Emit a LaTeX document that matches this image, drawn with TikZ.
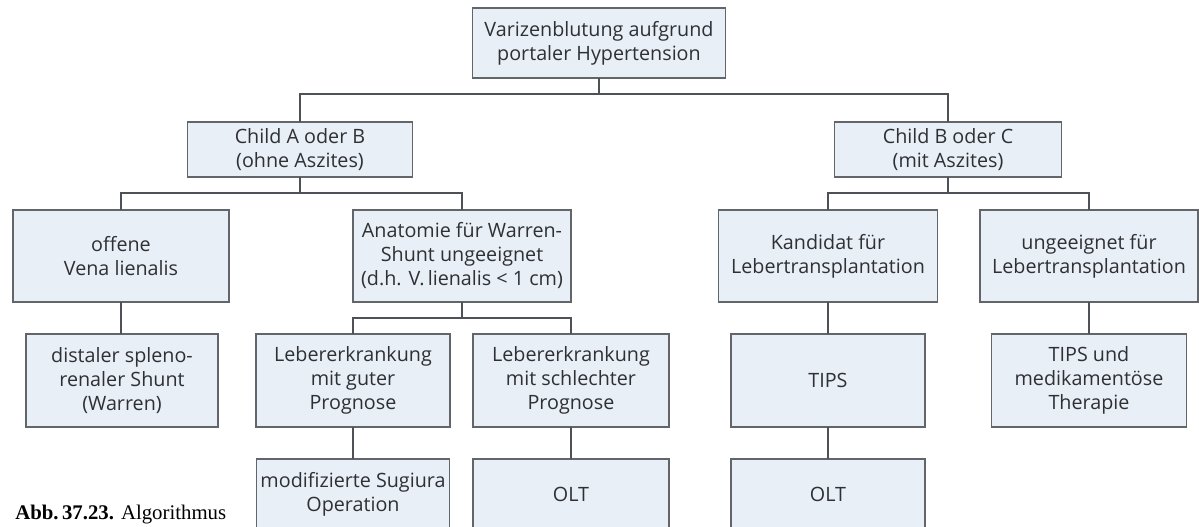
\documentclass[tikz,border=0pt]{standalone}
\usepackage{fontspec}
\setmainfont{Liberation Serif}
\newfontfamily\boxfont{Open Sans}
\usepackage{xcolor}
\definecolor{boxfill}{HTML}{E9EFF7}
\definecolor{boxline}{HTML}{62656A}
\definecolor{wire}{HTML}{4E5155}
\definecolor{ink}{HTML}{2E3034}
\usepackage{tikz}

\begin{document}
\begin{tikzpicture}[
  x=0.75pt, y=-0.75pt,
  box/.style={draw=boxline, fill=boxfill, line width=1pt, inner sep=0pt, outer sep=0pt, text=ink, font=\boxfont\fontsize{14.8}{18}\selectfont, align=center},
  sz/.style 2 args={minimum width=#1*0.75pt, minimum height=#2*0.75pt},
  wire/.style={draw=wire, line width=1pt}
]
  \clip (0,0) rectangle (1199,527);
  \fill[white] (0,0) rectangle (1199,527);

  \node[box, sz={253}{70}] (top) at (599,43) {Varizenblutung aufgrund\\portaler Hypertension};
  \node[box, sz={225}{55}] (childab) at (300,149.5) {Child A oder B\\(ohne Aszites)};
  \node[box, sz={227}{55}] (childbc) at (948,149.5) {Child B oder C\\(mit Aszites)};
  \node[box, sz={216}{92}] (offen) at (121,256) {offene\\Vena lienalis};
  \node[box, sz={218}{92}] (anatomie) at (462,256) {Anatomie für Warren-\\Shunt ungeeignet\\(d.h. V.\,lienalis < 1 cm)};
  \node[box, sz={219}{92}] (kandidat) at (828,256) {Kandidat für\\Lebertransplantation};
  \node[box, sz={218}{92}] (ungeeignet) at (1089,256) {ungeeignet für\\Lebertransplantation};
  \node[box, sz={192}{93}] (distal) at (122,380.5) {distaler spleno-\\renaler Shunt\\(Warren)};
  \node[box, sz={194}{93}] (gut) at (353,380.5) {Lebererkrankung\\mit guter\\Prognose};
  \node[box, sz={196}{93}] (schlecht) at (571,380.5) {Lebererkrankung\\mit schlechter\\Prognose};
  \node[box, sz={194}{93}] (tips) at (828,380.5) {TIPS};
  \node[box, sz={195}{93}] (tipsmed) at (1089,380.5) {TIPS und\\medikamentöse\\Therapie};
  \node[box, sz={193}{70}] (sugiura) at (353,494) {modifizierte Sugiura\\Operation};
  \node[box, sz={196}{70}] (oltA) at (571,494) {OLT};
  \node[box, sz={194}{70}] (oltB) at (828,494) {OLT};

  % Verzweigungen
  \draw[wire] (top.south) -- ++(0,16) -| (childab.north);
  \draw[wire] (top.south) -- ++(0,16) -| (childbc.north);
  \draw[wire] (childab.south) -- ++(0,16) -| (offen.north);
  \draw[wire] (childab.south) -- ++(0,16) -| (anatomie.north);
  \draw[wire] (childbc.south) -- ++(0,16) -| (kandidat.north);
  \draw[wire] (childbc.south) -- ++(0,16) -| (ungeeignet.north);
  \draw[wire] (anatomie.south) -- ++(0,16) -| (gut.north);
  \draw[wire] (anatomie.south) -- ++(0,16) -| (schlecht.north);

  % direkte Folgen
  \draw[wire] (offen.south) -- (offen.south |- distal.north);
  \draw[wire] (gut.south) -- (sugiura.north);
  \draw[wire] (schlecht.south) -- (oltA.north);
  \draw[wire] (kandidat.south) -- (tips.north);
  \draw[wire] (tips.south) -- (oltB.north);
  \draw[wire] (ungeeignet.south) -- (tipsmed.north);

  \node[anchor=base west, inner sep=0pt, text=black, font=\fontsize{15.6}{18}\selectfont] (caption) at (15,519) {\textbf{Abb.\,37.23.} Algorithmus};
\end{tikzpicture}
\end{document}
